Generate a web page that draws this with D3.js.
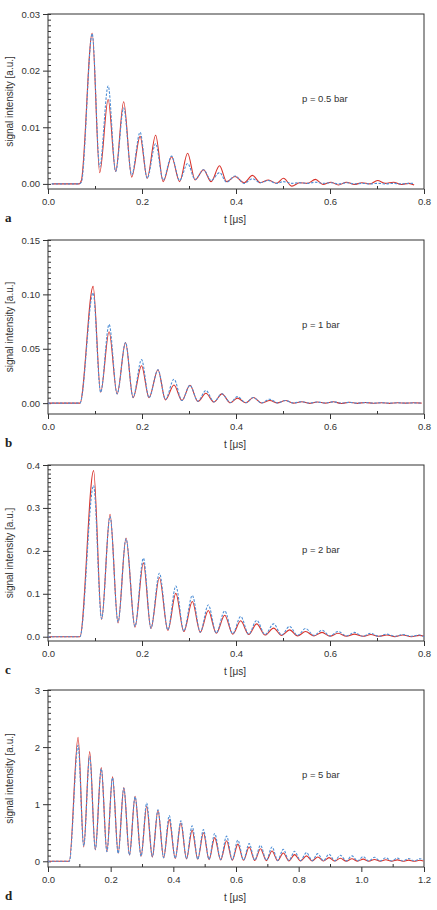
<!DOCTYPE html>
<html>
<head>
<meta charset="utf-8">
<script src="https://cdn.jsdelivr.net/npm/d3@7"></script>
<style>
    body { margin: 0; background: #fff; }
    svg text { font-family: "Liberation Sans", Arial, Helvetica, sans-serif; fill: #333; }
    .letter { font-family: "Liberation Serif", "Times New Roman", serif !important; font-weight: bold; fill: #222; }
</style>
</head>
<body>
<svg width="437" height="910"></svg>
<script>
// ---- panel a : p = 0.5 bar ----
const aTime = [0.008, 0.066, 0.071, 0.094, 0.110, 0.128, 0.144, 0.161, 0.178, 0.196, 0.211, 0.229, 0.245, 0.263, 0.280, 0.297, 0.313, 0.331, 0.347, 0.365, 0.380, 0.398, 0.417, 0.435, 0.452, 0.469, 0.486, 0.501, 0.519, 0.535, 0.552, 0.569, 0.585, 0.602, 0.618, 0.635, 0.652, 0.668, 0.685, 0.701, 0.718, 0.735, 0.751, 0.768, 0.779];
const aMeasured = [0, 0, 0.0006, 0.0266, 0.0020, 0.0149, 0.0022, 0.0145, 0.0012, 0.0084, 0.0010, 0.0086, 0.0004, 0.0048, 0.0004, 0.0054, 0.0007, 0.0025, 0.0004, 0.0032, 0.0004, 0.0013, 0.0002, 0.0015, 0.0002, 0.0007, 0.0001, 0.0010, -0.0004, 0.0002, 0.0001, 0.0008, -0.0001, 0.0003, -0.0002, 0.0003, -0.0001, 0.0002, 0.0000, 0.0006, 0.0001, 0.0003, -0.0001, 0.0001, -0.0002];
const aSimulated = [0, 0, 0.0003, 0.0265, 0.0030, 0.0173, 0.0022, 0.0134, 0.0016, 0.0091, 0.0010, 0.0071, 0.0007, 0.0049, 0.0006, 0.0036, 0.0008, 0.0025, 0.0006, 0.0020, 0.0003, 0.0014, 0.0001, 0.0009, 0.0002, 0.0006, 0.0001, 0.0004, 0.0001, 0.0002, 0.0001, 0.0003, 0.0001, 0.0002, 0.0000, 0.0002, 0.0000, 0.0001, 0.0000, 0.0001, 0.0000, 0.0001, 0.0000, 0.0001, 0.0001];
const aYTicks = [0, 0.01, 0.02, 0.03];

// ---- panel b : p = 1 bar ----
const bTime = [0, 0.068, 0.096, 0.112, 0.130, 0.147, 0.165, 0.181, 0.199, 0.215, 0.234, 0.250, 0.268, 0.285, 0.302, 0.319, 0.336, 0.353, 0.370, 0.388, 0.403, 0.421, 0.437, 0.454, 0.472, 0.488, 0.505, 0.522, 0.540, 0.556, 0.573, 0.590, 0.607, 0.624, 0.641, 0.658, 0.675, 0.692, 0.710, 0.727, 0.744, 0.761, 0.778, 0.795];
const bMeasured = [0, 0, 0.1074, 0.0100, 0.0657, 0.0085, 0.0557, 0.0050, 0.0344, 0.0050, 0.0307, 0.0030, 0.0167, 0.0024, 0.0164, 0.0015, 0.0091, 0.0010, 0.0085, 0.0003, 0.0046, 0.0003, 0.0052, 0.0001, 0.0024, 0.0002, 0.0024, 0.0000, 0.0012, -0.0002, 0.0010, 0.0000, 0.0012, -0.0003, 0.0008, -0.0002, 0.0006, -0.0001, 0.0004, -0.0002, 0.0003, 0.0000, 0.0003, 0.0000];
const bSimulated = [0, 0, 0.1013, 0.0100, 0.0724, 0.0085, 0.0557, 0.0055, 0.0400, 0.0050, 0.0307, 0.0035, 0.0220, 0.0024, 0.0164, 0.0018, 0.0116, 0.0012, 0.0085, 0.0006, 0.0060, 0.0004, 0.0052, 0.0002, 0.0036, 0.0002, 0.0024, 0.0001, 0.0014, 0.0000, 0.0010, 0.0001, 0.0012, 0.0000, 0.0007, 0.0000, 0.0005, 0.0000, 0.0004, 0.0000, 0.0003, 0.0000, 0.0002, 0.0001];
const bYTicks = [0, 0.05, 0.10, 0.15];

// ---- panel c : p = 2 bar ----
const cTime = [0, 0.068, 0.097, 0.114, 0.132, 0.149, 0.166, 0.185, 0.203, 0.219, 0.237, 0.255, 0.272, 0.289, 0.307, 0.324, 0.341, 0.358, 0.376, 0.393, 0.410, 0.427, 0.444, 0.462, 0.480, 0.497, 0.514, 0.531, 0.548, 0.566, 0.583, 0.600, 0.617, 0.635, 0.652, 0.670, 0.687, 0.704, 0.721, 0.738, 0.755, 0.773, 0.790, 0.800];
const cMeasured = [0, 0, 0.387, 0.040, 0.285, 0.032, 0.230, 0.022, 0.172, 0.019, 0.138, 0.015, 0.101, 0.012, 0.082, 0.010, 0.061, 0.008, 0.050, 0.006, 0.037, 0.005, 0.030, 0.004, 0.020, 0.003, 0.016, 0.002, 0.012, 0.002, 0.010, 0.001, 0.008, 0.001, 0.006, 0.001, 0.005, 0.001, 0.004, 0.000, 0.004, 0.000, 0.003, 0.001];
const cSimulated = [0, 0, 0.352, 0.042, 0.280, 0.034, 0.228, 0.024, 0.183, 0.020, 0.148, 0.016, 0.118, 0.013, 0.096, 0.011, 0.074, 0.009, 0.060, 0.007, 0.047, 0.006, 0.038, 0.005, 0.030, 0.004, 0.024, 0.003, 0.019, 0.003, 0.015, 0.002, 0.012, 0.002, 0.010, 0.001, 0.008, 0.001, 0.006, 0.001, 0.005, 0.001, 0.004, 0.000];
const cYTicks = [0, 0.1, 0.2, 0.3, 0.4];

// ---- panel d : p = 5 bar ----
const dTime = [0, 0.068, 0.096, 0.114, 0.133, 0.151, 0.170, 0.188, 0.206, 0.224, 0.242, 0.260, 0.278, 0.297, 0.315, 0.333, 0.351, 0.369, 0.387, 0.406, 0.424, 0.442, 0.460, 0.478, 0.496, 0.514, 0.532, 0.551, 0.570, 0.588, 0.606, 0.624, 0.642, 0.660, 0.678, 0.697, 0.715, 0.733, 0.751, 0.769, 0.787, 0.806, 0.825, 0.843, 0.861, 0.879, 0.897, 0.915, 0.933, 0.952, 0.970, 0.988, 1.006, 1.024, 1.042, 1.060, 1.078, 1.097, 1.115, 1.133, 1.151, 1.169, 1.187, 1.198];
const dMeasured = [0, 0, 2.17, 0.25, 1.92, 0.20, 1.64, 0.17, 1.48, 0.14, 1.29, 0.11, 1.14, 0.09, 0.965, 0.075, 0.895, 0.06, 0.73, 0.05, 0.67, 0.042, 0.545, 0.035, 0.50, 0.03, 0.415, 0.025, 0.36, 0.02, 0.30, 0.017, 0.25, 0.014, 0.22, 0.012, 0.18, 0.010, 0.146, 0.008, 0.117, 0.007, 0.094, 0.006, 0.076, 0.005, 0.064, 0.004, 0.053, 0.003, 0.045, 0.003, 0.038, 0.002, 0.032, 0.002, 0.028, 0.002, 0.024, 0.001, 0.020, 0.001, 0.018, 0.005];
const dSimulated = [0, 0, 2.03, 0.27, 1.84, 0.21, 1.62, 0.17, 1.46, 0.14, 1.28, 0.11, 1.13, 0.09, 1.02, 0.08, 0.90, 0.065, 0.80, 0.055, 0.71, 0.045, 0.62, 0.04, 0.555, 0.035, 0.485, 0.03, 0.44, 0.025, 0.37, 0.022, 0.31, 0.02, 0.28, 0.018, 0.25, 0.016, 0.21, 0.014, 0.175, 0.012, 0.152, 0.011, 0.134, 0.010, 0.123, 0.009, 0.105, 0.008, 0.094, 0.007, 0.082, 0.006, 0.070, 0.005, 0.062, 0.005, 0.055, 0.004, 0.050, 0.004, 0.045, 0.03];
const dYTicks = [0, 1, 2, 3];

const xTicksShort = [0, 0.2, 0.4, 0.6, 0.8];
const xTicksLong = [0, 0.2, 0.4, 0.6, 0.8, 1.0, 1.2];

const pressureLabels = ['p = 0.5 bar', 'p = 1 bar', 'p = 2 bar', 'p = 5 bar'];
const panelLetters = ['a', 'b', 'c', 'd'];

const measuredColor = '#d8322b';
const simulatedColor = '#4f8fd6';

// layout for every panel (pixel frame + axis settings)
const panels = [
    { time: aTime, measured: aMeasured, simulated: aSimulated, yTicks: aYTicks, yFmt: '.2f', yMin: -0.0009, yMinor: 0.001,
      xTicks: xTicksShort, xMax: 0.8, top: 14, bottom: 189 },
    { time: bTime, measured: bMeasured, simulated: bSimulated, yTicks: bYTicks, yFmt: '.2f', yMin: -0.01, yMinor: 0.005,
      xTicks: xTicksShort, xMax: 0.8, top: 240, bottom: 414 },
    { time: cTime, measured: cMeasured, simulated: cSimulated, yTicks: cYTicks, yFmt: '.1f', yMin: -0.01, yMinor: 0.01,
      xTicks: xTicksShort, xMax: 0.8, top: 465, bottom: 641 },
    { time: dTime, measured: dMeasured, simulated: dSimulated, yTicks: dYTicks, yFmt: 'd', yMin: -0.1, yMinor: 0.1,
      xTicks: xTicksLong, xMax: 1.2, top: 690, bottom: 867 }
];

const left = 48, right = 424;
const svg = d3.select('svg');

panels.forEach((p, i) => drawPanel(p, i));

function drawPanel(p, i) {
    const yMax = p.yTicks[p.yTicks.length - 1];
    const xScale = d3.scaleLinear().domain([0, p.xMax]).range([left, right]);
    const yScale = d3.scaleLinear().domain([p.yMin, yMax]).range([p.bottom, p.top]);
    const g = svg.append('g');

    // frame
    g.append('rect')
        .attr('x', left).attr('y', p.top)
        .attr('width', right - left).attr('height', p.bottom - p.top)
        .attr('fill', 'none').attr('stroke', '#333').attr('stroke-width', 1);

    // minor ticks (inside)
    const yMinorTicks = d3.range(0, yMax + p.yMinor / 2, p.yMinor);
    g.append('g').attr('transform', `translate(${left},0)`)
        .call(d3.axisRight(yScale).tickValues(yMinorTicks).tickSize(3).tickFormat(''))
        .call(a => a.select('.domain').remove());
    const xMinorTicks = d3.range(0.1, p.xMax, 0.2);
    g.append('g').attr('transform', `translate(0,${p.bottom})`)
        .call(d3.axisTop(xScale).tickValues(xMinorTicks).tickSize(3).tickFormat(''))
        .call(a => a.select('.domain').remove());

    // major axes
    const yAxisG = g.append('g').attr('transform', `translate(${left},0)`)
        .call(d3.axisLeft(yScale).tickValues(p.yTicks).tickSize(5).tickPadding(3).tickFormat(d3.format(p.yFmt)));
    const xAxisG = g.append('g').attr('transform', `translate(0,${p.bottom})`)
        .call(d3.axisBottom(xScale).tickValues(p.xTicks).tickSize(5).tickPadding(4).tickFormat(d3.format('.1f')));
    [yAxisG, xAxisG].forEach(ax => {
        ax.selectAll('.domain').remove();
        ax.selectAll('text').attr('font-size', 9.5).attr('font-family', null);
    });
    g.selectAll('.tick line').attr('stroke', '#333');

    // curves
    const line = d3.line()
        .x(d => xScale(d[0]))
        .y(d => yScale(d[1]))
        .curve(d3.curveMonotoneX);

    g.append('path')
        .datum(p.time.map((t, k) => [t, p.measured[k]]))
        .attr('d', line)
        .attr('fill', 'none')
        .attr('stroke', measuredColor)
        .attr('stroke-width', 1.1);

    g.append('path')
        .datum(p.time.map((t, k) => [t, p.simulated[k]]))
        .attr('d', line)
        .attr('fill', 'none')
        .attr('stroke', simulatedColor)
        .attr('stroke-width', 1.1)
        .attr('stroke-dasharray', '2.5,1.5');

    // texts
    g.append('text')
        .attr('x', 302).attr('y', p.top + 88)
        .attr('font-size', 9.5)
        .text(pressureLabels[i]);

    g.append('text')
        .attr('transform', `translate(13,${(p.top + p.bottom) / 2}) rotate(-90)`)
        .attr('text-anchor', 'middle')
        .attr('font-size', 10)
        .text('signal intensity [a.u.]');

    g.append('text')
        .attr('x', (left + right) / 2 - 1).attr('y', p.bottom + 34)
        .attr('text-anchor', 'middle')
        .attr('font-size', 10)
        .text('t [μs]');

    g.append('text')
        .attr('class', 'letter')
        .attr('x', 5).attr('y', p.bottom + 33)
        .attr('font-size', 13)
        .text(panelLetters[i]);
}
</script>
</body>
</html>
